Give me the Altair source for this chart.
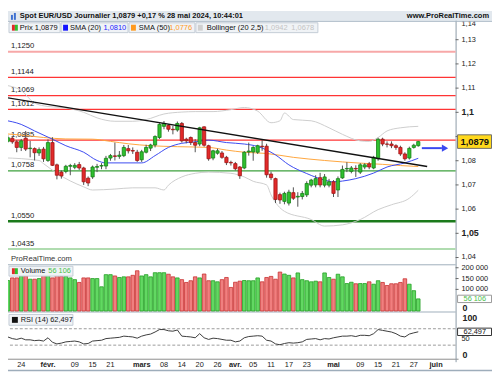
import altair as alt
import pandas as pd

# ---------------- data ----------------
idx = list(range(94))  # trading days 18 Jan 2024 .. 28 May 2024

open_ = [1.0886, 1.0880, 1.0893, 1.0878, 1.0855, 1.0893, 1.0850, 1.0850, 1.0832, 1.0848,
         1.0801, 1.0875, 1.0783, 1.0753, 1.0756, 1.0777, 1.0773, 1.0784, 1.0770, 1.0728,
         1.0733, 1.0773, 1.0778, 1.0778, 1.0811, 1.0820, 1.0818, 1.0821, 1.0850, 1.0842,
         1.0835, 1.0804, 1.0835, 1.0852, 1.0865, 1.0896, 1.0942, 1.0946, 1.0930, 1.0927,
         1.0954, 1.0889, 1.0896, 1.0875, 1.0869, 1.0940, 1.0862, 1.0811, 1.0831, 1.0832,
         1.0814, 1.0793, 1.0788, 1.0774, 1.0770, 1.0836, 1.0836, 1.0835, 1.0860, 1.0860,
         1.0745, 1.0726, 1.0660, 1.0632, 1.0625, 1.0668, 1.0650, 1.0652, 1.0659, 1.0699,
         1.0700, 1.0730, 1.0699, 1.0699, 1.0713, 1.0679, 1.0729, 1.0766, 1.0756, 1.0768,
         1.0753, 1.0774, 1.0787, 1.0770, 1.0808, 1.0889, 1.0869, 1.0869, 1.0862, 1.0855,
         1.0828, 1.0811, 1.0855, 1.0862]
high_ = [1.0896, 1.0905, 1.0900, 1.0885, 1.0890, 1.0923, 1.0882, 1.0855, 1.0855, 1.0857,
         1.0888, 1.0897, 1.0788, 1.0760, 1.0783, 1.0787, 1.0790, 1.0795, 1.0775, 1.0735,
         1.0780, 1.0787, 1.0790, 1.0820, 1.0828, 1.0875, 1.0840, 1.0865, 1.0865, 1.0855,
         1.0845, 1.0845, 1.0866, 1.0870, 1.0905, 1.0955, 1.0964, 1.0950, 1.0944, 1.0962,
         1.0960, 1.0895, 1.0900, 1.0889, 1.0940, 1.0942, 1.0866, 1.0845, 1.0850, 1.0840,
         1.0820, 1.0800, 1.0795, 1.0778, 1.0840, 1.0875, 1.0860, 1.0866, 1.0885, 1.0870,
         1.0755, 1.0730, 1.0668, 1.0672, 1.0680, 1.0690, 1.0670, 1.0675, 1.0715, 1.0725,
         1.0740, 1.0750, 1.0745, 1.0725, 1.0720, 1.0735, 1.0780, 1.0794, 1.0778, 1.0781,
         1.0790, 1.0790, 1.0795, 1.0820, 1.0895, 1.0895, 1.0880, 1.0880, 1.0868, 1.0862,
         1.0835, 1.0858, 1.0870, 1.0882]
low_ = [1.0848, 1.0875, 1.0870, 1.0835, 1.0840, 1.0840, 1.0814, 1.0801, 1.0820, 1.0795,
        1.0795, 1.0778, 1.0723, 1.0726, 1.0748, 1.0740, 1.0765, 1.0762, 1.0700, 1.0695,
        1.0725, 1.0753, 1.0765, 1.0765, 1.0800, 1.0801, 1.0808, 1.0815, 1.0830, 1.0828,
        1.0795, 1.0795, 1.0830, 1.0840, 1.0855, 1.0890, 1.0930, 1.0920, 1.0909, 1.0920,
        1.0875, 1.0872, 1.0865, 1.0835, 1.0860, 1.0858, 1.0800, 1.0802, 1.0825, 1.0808,
        1.0782, 1.0780, 1.0760, 1.0725, 1.0765, 1.0821, 1.0800, 1.0828, 1.0841, 1.0730,
        1.0720, 1.0625, 1.0622, 1.0620, 1.0615, 1.0638, 1.0610, 1.0640, 1.0650, 1.0690,
        1.0690, 1.0690, 1.0690, 1.0690, 1.0650, 1.0650, 1.0725, 1.0753, 1.0748, 1.0733,
        1.0745, 1.0765, 1.0765, 1.0765, 1.0800, 1.0860, 1.0855, 1.0852, 1.0845, 1.0820,
        1.0800, 1.0805, 1.0850, 1.0858]
close_ = [1.0882, 1.0895, 1.0878, 1.0855, 1.0882, 1.0848, 1.0852, 1.0833, 1.0846, 1.0808,
          1.0875, 1.0781, 1.0740, 1.0737, 1.0777, 1.0780, 1.0781, 1.0770, 1.0713, 1.0708,
          1.0774, 1.0776, 1.0780, 1.0810, 1.0821, 1.0818, 1.0823, 1.0855, 1.0841, 1.0840,
          1.0801, 1.0837, 1.0855, 1.0865, 1.0900, 1.0950, 1.0954, 1.0930, 1.0928, 1.0954,
          1.0882, 1.0882, 1.0875, 1.0864, 1.0936, 1.0864, 1.0808, 1.0841, 1.0841, 1.0814,
          1.0792, 1.0791, 1.0767, 1.0738, 1.0835, 1.0840, 1.0855, 1.0862, 1.0858, 1.0742,
          1.0730, 1.0640, 1.0638, 1.0665, 1.0670, 1.0645, 1.0653, 1.0665, 1.0706, 1.0720,
          1.0726, 1.0700, 1.0733, 1.0713, 1.0665, 1.0726, 1.0764, 1.0768, 1.0770, 1.0766,
          1.0783, 1.0783, 1.0774, 1.0814, 1.0889, 1.0869, 1.0868, 1.0862, 1.0855, 1.0828,
          1.0808, 1.0851, 1.0864, 1.0879]
volume = [140000, 141000, 153000, 153000, 162000, 162000, 147000, 147000, 150000, 165000,
          165000, 153000, 165000, 160000, 160000, 153000, 145000, 132000, 153000, 153000,
          150000, 150000, 112000, 168000, 168000, 162000, 155000, 158000, 158000, 165000,
          186000, 162000, 168000, 158000, 177000, 177000, 177000, 170000, 158000, 153000,
          145000, 132000, 140000, 158000, 153000, 171000, 140000, 140000, 135000, 145000,
          155000, 109000, 133000, 138000, 141000, 140000, 140000, 153000, 135000, 155000,
          160000, 147000, 180000, 171000, 165000, 153000, 176000, 145000, 140000, 135000,
          138000, 135000, 176000, 155000, 147000, 170000, 158000, 127000, 133000, 126000,
          127000, 127000, 135000, 124000, 140000, 132000, 118000, 126000, 126000, 132000,
          149000, 124000, 94000, 56106]
rsi = [48, 50, 46, 44, 47, 43, 43, 41, 42, 40,
       48, 37, 33, 35, 38, 39, 40, 38, 33, 34,
       40, 41, 42, 46, 47, 48, 49, 52, 51, 50,
       47, 52, 55, 57, 62, 68, 68, 65, 64, 67,
       52, 51, 50, 48, 58, 48, 44, 47, 46, 44,
       42, 42, 38, 40, 48, 51, 52, 53, 52, 42,
       40, 33, 31, 34, 36, 35, 36, 38, 44, 45,
       46, 43, 46, 45, 48, 50, 52, 52, 53, 51,
       54, 54, 53, 58, 68, 66, 64, 62, 58, 52,
       50, 57, 60, 62.497]

sma20_idx = [0, 4, 7, 11, 14, 18, 21, 23, 31, 34, 37, 40, 43, 46, 50, 54, 57, 61, 64, 68,
             72, 74, 76, 79, 83, 86, 90, 93]
sma20_val = [1.0968, 1.0950, 1.0923, 1.0889, 1.0862, 1.0835, 1.0801, 1.0791, 1.0791, 1.0821,
             1.0855, 1.0872, 1.0878, 1.0885, 1.0875, 1.0869, 1.0859, 1.0824, 1.0783, 1.0747,
             1.0720, 1.0713, 1.0716, 1.0726, 1.0749, 1.0774, 1.0791, 1.0810]
sma50_idx = [0, 4, 9, 14, 20, 24, 28, 33, 39, 46, 50, 54, 59, 65, 72, 80, 85, 89, 93]
sma50_val = [1.0912, 1.0906, 1.0896, 1.0890, 1.0889, 1.0880, 1.0870, 1.0862, 1.0858, 1.0855,
             1.0844, 1.0835, 1.0830, 1.0814, 1.0801, 1.0790, 1.0785, 1.0780, 1.0776]
bbup_idx = [0, 2, 4, 7, 10, 14, 18, 21, 25, 29, 32, 36, 40, 43, 47, 51, 54, 57, 60, 62,
            63, 65, 69, 73, 76, 80, 82, 84, 86, 89, 93]
bbup_val = [1.1113, 1.1106, 1.1090, 1.1038, 1.1024, 1.1018, 1.1000, 1.0977, 1.0963, 1.0963,
            1.0970, 1.0993, 1.1001, 1.1003, 1.1003, 1.1011, 1.1020, 1.1005, 1.0957, 1.0965,
            1.0997, 1.0970, 1.0965, 1.0936, 1.0909, 1.0882, 1.0880, 1.0896, 1.0923, 1.0936,
            1.0942]
bblo_idx = [0, 8, 9, 12, 18, 20, 25, 29, 34, 36, 37, 40, 43, 46, 51, 54, 56, 59, 60, 63,
            69, 72, 76, 80, 84, 87, 91, 93]
bblo_val = [1.0812, 1.0801, 1.0788, 1.0748, 1.0692, 1.0679, 1.0683, 1.0688, 1.0688, 1.0679,
            1.0699, 1.0733, 1.0748, 1.0753, 1.0748, 1.0733, 1.0715, 1.0700, 1.0659, 1.0591,
            1.0557, 1.0530, 1.0535, 1.0557, 1.0598, 1.0618, 1.0645, 1.0678]

trend_idx = [-0.73, 95.0]
trend_val = [1.1065, 1.0776]
arrow_idx = [93.8, 99.0]
arrow_val = 1.0852

levels = [1.1250, 1.1144, 1.1069, 1.1012, 1.0885, 1.0758, 1.0550, 1.0435]
level_labels = ["1,1250", "1,1144", "1,1069", "1,1012", "1,0885", "1,0758", "1,0550", "1,0435"]

price_ticks = [1.13, 1.12, 1.11, 1.08, 1.07, 1.06, 1.04]
price_tick_labels = ["1,13", "1,12", "1,11", "1,08", "1,07", "1,06", "1,04"]
price_major = [1.10, 1.05]
price_major_labels = ["1,1", "1,05"]
price_top = [1.14]
price_top_labels = ["1,14"]
price_tick_marks = [1.14, 1.13, 1.12, 1.11, 1.10, 1.09, 1.08, 1.07, 1.06, 1.05, 1.04]
vol_ticks = [200000, 150000, 100000]
vol_tick_labels = ["200 000", "150 000", "100 000"]
rsi_levels = [70, 30]
rsi_ticks = [50]
rsi_tick_labels = ["50"]

date_idx = [4, 10, 16, 20, 24, 31, 36, 40, 44, 48, 52, 56, 60, 64, 68, 74, 80, 84, 88, 92, 97]
date_labels = ["24", "févr.", "09", "15", "21", "mars", "08", "14", "20", "26", "avr.",
               "05", "11", "17", "23", "mai", "09", "15", "21", "27", "juin"]
month_labels = ["févr.", "mars", "avr.", "mai", "juin"]

title_text = "Spot EUR/USD Journalier 1,0879 +0,17 % 28 mai 2024, 10:44:01"
last_price_text = "1,0879"

# ---------------- styles / layout ----------------
FONT = "Liberation Sans"
GREEN, GREEN_D = "#2fc02f", "#168016"
RED, RED_D = "#e22a2a", "#a01414"
VGREEN, VGREEN_D = "#62d862", "#22a022"
VRED, VRED_D = "#f07f7f", "#c83232"
BLUE = "#3a48f0"
ORANGE = "#ffa53c"
BBCOL = "#cdcdcd"
LEVEL_COLORS = ["#f7a8a8", "#ff3434", "#ff3434", "#ff3434", "#ff3434", "#3ca03c", "#1b7a1b", "#b0dcb0"]
LEVEL_WIDTHS = [2, 1.3, 1.3, 1.3, 1.3, 1.2, 2.6, 2]
FRAME = "#9eadbb"

W, H = 492, 367
PLOT_R = 455          # right edge of the plot area (svg px)
XS = alt.Scale(domain=[-0.728, 101.37], range=[-8, PLOT_R], nice=False, zero=False)
PS = alt.Scale(domain=[1.037, 1.14065], range=[258, 3], nice=False, zero=False)
VS = alt.Scale(domain=[0, 213636], range=[305, 258], nice=False, zero=False)
RS = alt.Scale(domain=[0, 100], range=[352.2, 310.5], nice=False, zero=False)


def X(f):
    return alt.X(f, type="quantitative", scale=XS, axis=None)


def Y(f, s):
    return alt.Y(f, type="quantitative", scale=s, axis=None)


def one():
    return alt.Chart(pd.DataFrame({"k": [0]}))


def rect(x1, x2, y1, y2, fill, stroke=None, sw=0):
    kw = dict(fill=fill, strokeWidth=sw)
    if stroke:
        kw["stroke"] = stroke
    return one().mark_rect(**kw).encode(x=alt.value(x1), x2=alt.value(x2),
                                         y=alt.value(y1), y2=alt.value(y2))


def hrule(x1, x2, y, color, sw=1):
    return one().mark_rule(color=color, strokeWidth=sw).encode(
        x=alt.value(x1), x2=alt.value(x2), y=alt.value(y))


def vrule(x, y1, y2, color, sw=1):
    return one().mark_rule(color=color, strokeWidth=sw).encode(
        x=alt.value(x), y=alt.value(y1), y2=alt.value(y2))


def txt(x, y, s, size=7.5, color="#222", bold=False, align="left"):
    return one().mark_text(text=s, font=FONT, fontSize=size, color=color,
                           fontWeight="bold" if bold else "normal", align=align,
                           baseline="middle").encode(x=alt.value(x), y=alt.value(y))


layers = []

# frame / panels
layers.append(rect(0, W, 0, H, "white"))
layers.append(hrule(-8, PLOT_R, 258, FRAME, 1))
layers.append(hrule(-8, PLOT_R, 306, FRAME, 1))
layers.append(hrule(-8, PLOT_R + 3, 354, "#8c8c8c", 1))
layers.append(hrule(0, W, 365.5, FRAME, 1.5))
layers.append(vrule(PLOT_R + 0.5, 3, 357, "#8c9aa6", 1))

# support / resistance levels
for v, lab, col, w in zip(levels, level_labels, LEVEL_COLORS, LEVEL_WIDTHS):
    d = pd.DataFrame({"v": [v], "lab": [lab]})
    layers.append(alt.Chart(d).mark_rule(color=col, strokeWidth=w).encode(
        x=alt.value(-8), x2=alt.value(PLOT_R), y=Y("v", PS)))
lev_df = pd.DataFrame({"v": levels, "lab": level_labels})
layers.append(alt.Chart(lev_df).mark_text(font=FONT, fontSize=7.8, color="#222", align="left",
                                          baseline="middle", dy=-5.5).encode(
    x=alt.value(3), y=Y("v", PS), text="lab:N"))

# indicator lines
for ii, vv, col in [(bbup_idx, bbup_val, BBCOL), (bblo_idx, bblo_val, BBCOL),
                    (sma50_idx, sma50_val, ORANGE), (sma20_idx, sma20_val, BLUE)]:
    d = pd.DataFrame({"i": ii, "v": vv})
    layers.append(alt.Chart(d).mark_line(color=col, strokeWidth=1, interpolate="monotone").encode(
        x=X("i"), y=Y("v", PS)))

# candles
cdf = pd.DataFrame({"i": idx, "o": open_, "h": high_, "l": low_, "c": close_,
                    "vol": volume, "r": rsi})
up = "datum.c >= datum.o"
layers.append(alt.Chart(cdf).mark_rule(color="#505050", strokeWidth=1).encode(
    x=X("i"), y=Y("l", PS), y2="h"))
layers.append(alt.Chart(cdf).transform_calculate(xl="datum.i - 0.36", xr="datum.i + 0.36")
              .mark_rect(strokeWidth=0.8).encode(
    x=X("xl"), x2="xr", y=Y("o", PS), y2="c",
    color=alt.condition(up, alt.value(GREEN), alt.value(RED)),
    stroke=alt.condition(up, alt.value(GREEN_D), alt.value(RED_D))))

# trend line
tdf = pd.DataFrame({"i": trend_idx, "v": trend_val})
layers.append(alt.Chart(tdf).mark_line(color="#111", strokeWidth=1.5).encode(x=X("i"), y=Y("v", PS)))

# arrow
adf = pd.DataFrame({"i": [arrow_idx[0]], "i2": [arrow_idx[1] - 0.7], "v": [arrow_val]})
layers.append(alt.Chart(adf).mark_rule(color=BLUE, strokeWidth=2).encode(
    x=X("i"), x2="i2", y=Y("v", PS)))
hdf = pd.DataFrame({"i": [arrow_idx[1]], "v": [arrow_val]})
layers.append(alt.Chart(hdf).mark_point(shape="triangle-right", filled=True, size=55, color=BLUE,
                                        opacity=1).encode(x=X("i"), y=Y("v", PS)))

# volume
layers.append(alt.Chart(cdf).transform_calculate(xl="datum.i - 0.4", xr="datum.i + 0.4", z="0")
              .mark_rect(strokeWidth=0.8).encode(
    x=X("xl"), x2="xr", y=Y("vol", VS), y2="z",
    color=alt.condition(up, alt.value(VGREEN), alt.value(VRED)),
    stroke=alt.condition(up, alt.value(VGREEN_D), alt.value(VRED_D))))

# RSI
rl = pd.DataFrame({"r": rsi_levels})
layers.append(alt.Chart(rl).mark_rule(color="#9a9a9a", strokeWidth=1, strokeDash=[3, 2]).encode(
    x=alt.value(-8), x2=alt.value(PLOT_R), y=Y("r", RS)))
layers.append(alt.Chart(cdf).mark_line(color="#3a3a3a", strokeWidth=1).encode(x=X("i"), y=Y("r", RS)))

# right axes: price
tm = pd.DataFrame({"v": price_tick_marks})
layers.append(alt.Chart(tm).mark_rule(color="#666", strokeWidth=1).encode(
    x=alt.value(PLOT_R), x2=alt.value(PLOT_R + 3), y=Y("v", PS)))
for vals, labs, size, bold, dy in [(price_ticks, price_tick_labels, 7.5, False, 0),
                                   (price_major, price_major_labels, 9, True, 0),
                                   (price_top, price_top_labels, 7.5, False, 9)]:
    d = pd.DataFrame({"v": vals, "lab": labs})
    layers.append(alt.Chart(d).mark_text(font=FONT, fontSize=size, align="left", baseline="middle",
                                         color="#222", fontWeight="bold" if bold else "normal",
                                         dy=dy).encode(
        x=alt.value(PLOT_R + 6), y=Y("v", PS), text="lab:N"))

# last price box
lp = pd.DataFrame({"v": [close_[-1]], "lab": [last_price_text]})
layers.append(alt.Chart(lp).transform_calculate(a="datum.v - 0.0028", b="datum.v + 0.0028")
              .mark_rect(fill="#ffd81c", stroke="#6d6d6d", strokeWidth=1).encode(
    x=alt.value(PLOT_R + 2), x2=alt.value(W - 0.5), y=Y("a", PS), y2="b"))
layers.append(alt.Chart(lp).mark_text(font=FONT, fontSize=9.5, fontWeight="bold", align="center",
                                      baseline="middle", color="#111").encode(
    x=alt.value((PLOT_R + W) / 2 + 1), y=Y("v", PS), text="lab:N"))

# right axes: volume
vd = pd.DataFrame({"v": vol_ticks, "lab": vol_tick_labels})
layers.append(alt.Chart(vd).mark_rule(color="#666").encode(
    x=alt.value(PLOT_R), x2=alt.value(PLOT_R + 3), y=Y("v", VS)))
layers.append(alt.Chart(vd).mark_text(font=FONT, fontSize=7.5, align="left", baseline="middle",
                                      color="#222").encode(
    x=alt.value(PLOT_R + 6), y=Y("v", VS), text="lab:N"))
layers.append(txt(PLOT_R + 7, 302, "0", size=9, bold=True))
lv = pd.DataFrame({"v": [volume[-1]], "lab": ["56 106"]})
layers.append(alt.Chart(lv).transform_calculate(a="datum.v - 17000", b="datum.v + 17000")
              .mark_rect(fill="white", stroke="#9a9a9a", strokeWidth=1).encode(
    x=alt.value(PLOT_R + 2), x2=alt.value(W - 0.5), y=Y("a", VS), y2="b"))
layers.append(alt.Chart(lv).mark_text(font=FONT, fontSize=7.5, align="center", baseline="middle",
                                      color="#4cbf4c").encode(
    x=alt.value((PLOT_R + W) / 2 + 1), y=Y("v", VS), text="lab:N"))

# right axes: RSI
rd = pd.DataFrame({"v": rsi_ticks, "lab": rsi_tick_labels})
layers.append(alt.Chart(rd).mark_text(font=FONT, fontSize=7.5, align="left", baseline="middle",
                                      color="#222", dy=2.5).encode(
    x=alt.value(PLOT_R + 6), y=Y("v", RS), text="lab:N"))
layers.append(txt(PLOT_R + 7, 312, "100", size=9, bold=True))
layers.append(txt(PLOT_R + 7, 349.5, "0", size=9, bold=True))
lr = pd.DataFrame({"v": [rsi[-1]], "lab": ["62,497"]})
layers.append(alt.Chart(lr).transform_calculate(a="datum.v - 9", b="datum.v + 9")
              .mark_rect(fill="white", stroke="#333", strokeWidth=1).encode(
    x=alt.value(PLOT_R + 2), x2=alt.value(W - 0.5), y=Y("a", RS), y2="b"))
layers.append(alt.Chart(lr).mark_text(font=FONT, fontSize=7.5, align="center", baseline="middle",
                                      color="#111").encode(
    x=alt.value((PLOT_R + W) / 2 + 1), y=Y("v", RS), text="lab:N"))

# x axis labels
dd = pd.DataFrame({"i": date_idx, "lab": date_labels})
dd["m"] = dd["lab"].isin(month_labels)
layers.append(alt.Chart(dd).transform_filter("!datum.m").mark_text(
    font=FONT, fontSize=7.5, align="center", baseline="middle", color="#222").encode(
    x=X("i"), y=alt.value(360), text="lab:N"))
layers.append(alt.Chart(dd).transform_filter("datum.m").mark_text(
    font=FONT, fontSize=7.5, fontWeight="bold", align="center", baseline="middle", color="#222").encode(
    x=X("i"), y=alt.value(360), text="lab:N"))

# panel captions
layers.append(txt(3, 252.5, "ProRealTime.com", size=7.8, color="#333"))
layers.append(rect(1, 66, 259.5, 269.5, "#f0f3f6", "#c3ccd6", 1))
layers.append(rect(4, 7, 261.5, 267.5, RED))
layers.append(rect(7, 10, 261.5, 267.5, GREEN))
layers.append(txt(13, 264.5, "Volume", size=7.5, color="#111"))
layers.append(txt(41, 264.5, "56 106", size=7.5, color="#4cbf4c"))
layers.append(rect(1, 66, 308.5, 319.5, "#f0f3f6", "#c3ccd6", 1))
layers.append(rect(4, 10, 311, 317, "#111"))
layers.append(txt(13, 314, "RSI (14) 62,497", size=7.5, color="#111"))

# header
layers.append(rect(0, W, 0, 10, "#e2e8ee"))
layers.append(hrule(0, W, 10.5, "#a7b6c4", 1))
layers.append(rect(3, 5, 4, 9, "#3d6fd0"))
layers.append(rect(6, 8, 2, 9, "#3d6fd0"))
layers.append(txt(12, 5.5, title_text, size=7.6, color="#111", bold=True))
layers.append(txt(489, 5.5, "www.ProRealTime.com", size=7.6, color="#111", bold=True, align="right"))

LEG_Y1, LEG_Y2, LEG_C = 12, 22, 17
layers.append(rect(1, 53, LEG_Y1, LEG_Y2, "#f0f3f6", "#c3ccd6", 1))
layers.append(rect(4, 7, LEG_C - 3, LEG_C + 3, RED))
layers.append(rect(7, 10, LEG_C - 3, LEG_C + 3, GREEN))
layers.append(txt(12, LEG_C, "Prix 1,0879", size=7.6, color="#111"))
layers.append(rect(54, 122, LEG_Y1, LEG_Y2, "#f0f3f6", "#c3ccd6", 1))
layers.append(rect(56, 61, LEG_C - 3, LEG_C + 3, "#1414ff"))
layers.append(txt(63, LEG_C, "SMA (20)", size=7.6, color="#111"))
layers.append(txt(97, LEG_C, "1,0810", size=7.6, color="#2323ff"))
layers.append(rect(123, 190, LEG_Y1, LEG_Y2, "#f0f3f6", "#c3ccd6", 1))
layers.append(rect(125, 130, LEG_C - 3, LEG_C + 3, "#ff9a1e"))
layers.append(txt(133, LEG_C, "SMA (50)", size=7.6, color="#111"))
layers.append(txt(164, LEG_C, "1,0776", size=7.6, color="#ff9a1e"))
layers.append(rect(191, 315, LEG_Y1, LEG_Y2, "#f0f3f6", "#c3ccd6", 1))
layers.append(rect(193, 198, LEG_C - 3, LEG_C + 3, "#d0d0d0"))
layers.append(txt(202, LEG_C, "Bollinger (20 2,5)", size=7.6, color="#111"))
layers.append(txt(261, LEG_C, "1,0942", size=7.6, color="#c4c4c4"))
layers.append(txt(288, LEG_C, "1,0678", size=7.6, color="#c4c4c4"))

chart = alt.layer(*layers).resolve_scale(y="independent").properties(
    width=W, height=H, autosize=alt.AutoSizeParams(type="none"), padding=0,
    background="white").configure_view(strokeWidth=0)

chart.save("out.html", embed_options={"renderer": "svg", "actions": False})
